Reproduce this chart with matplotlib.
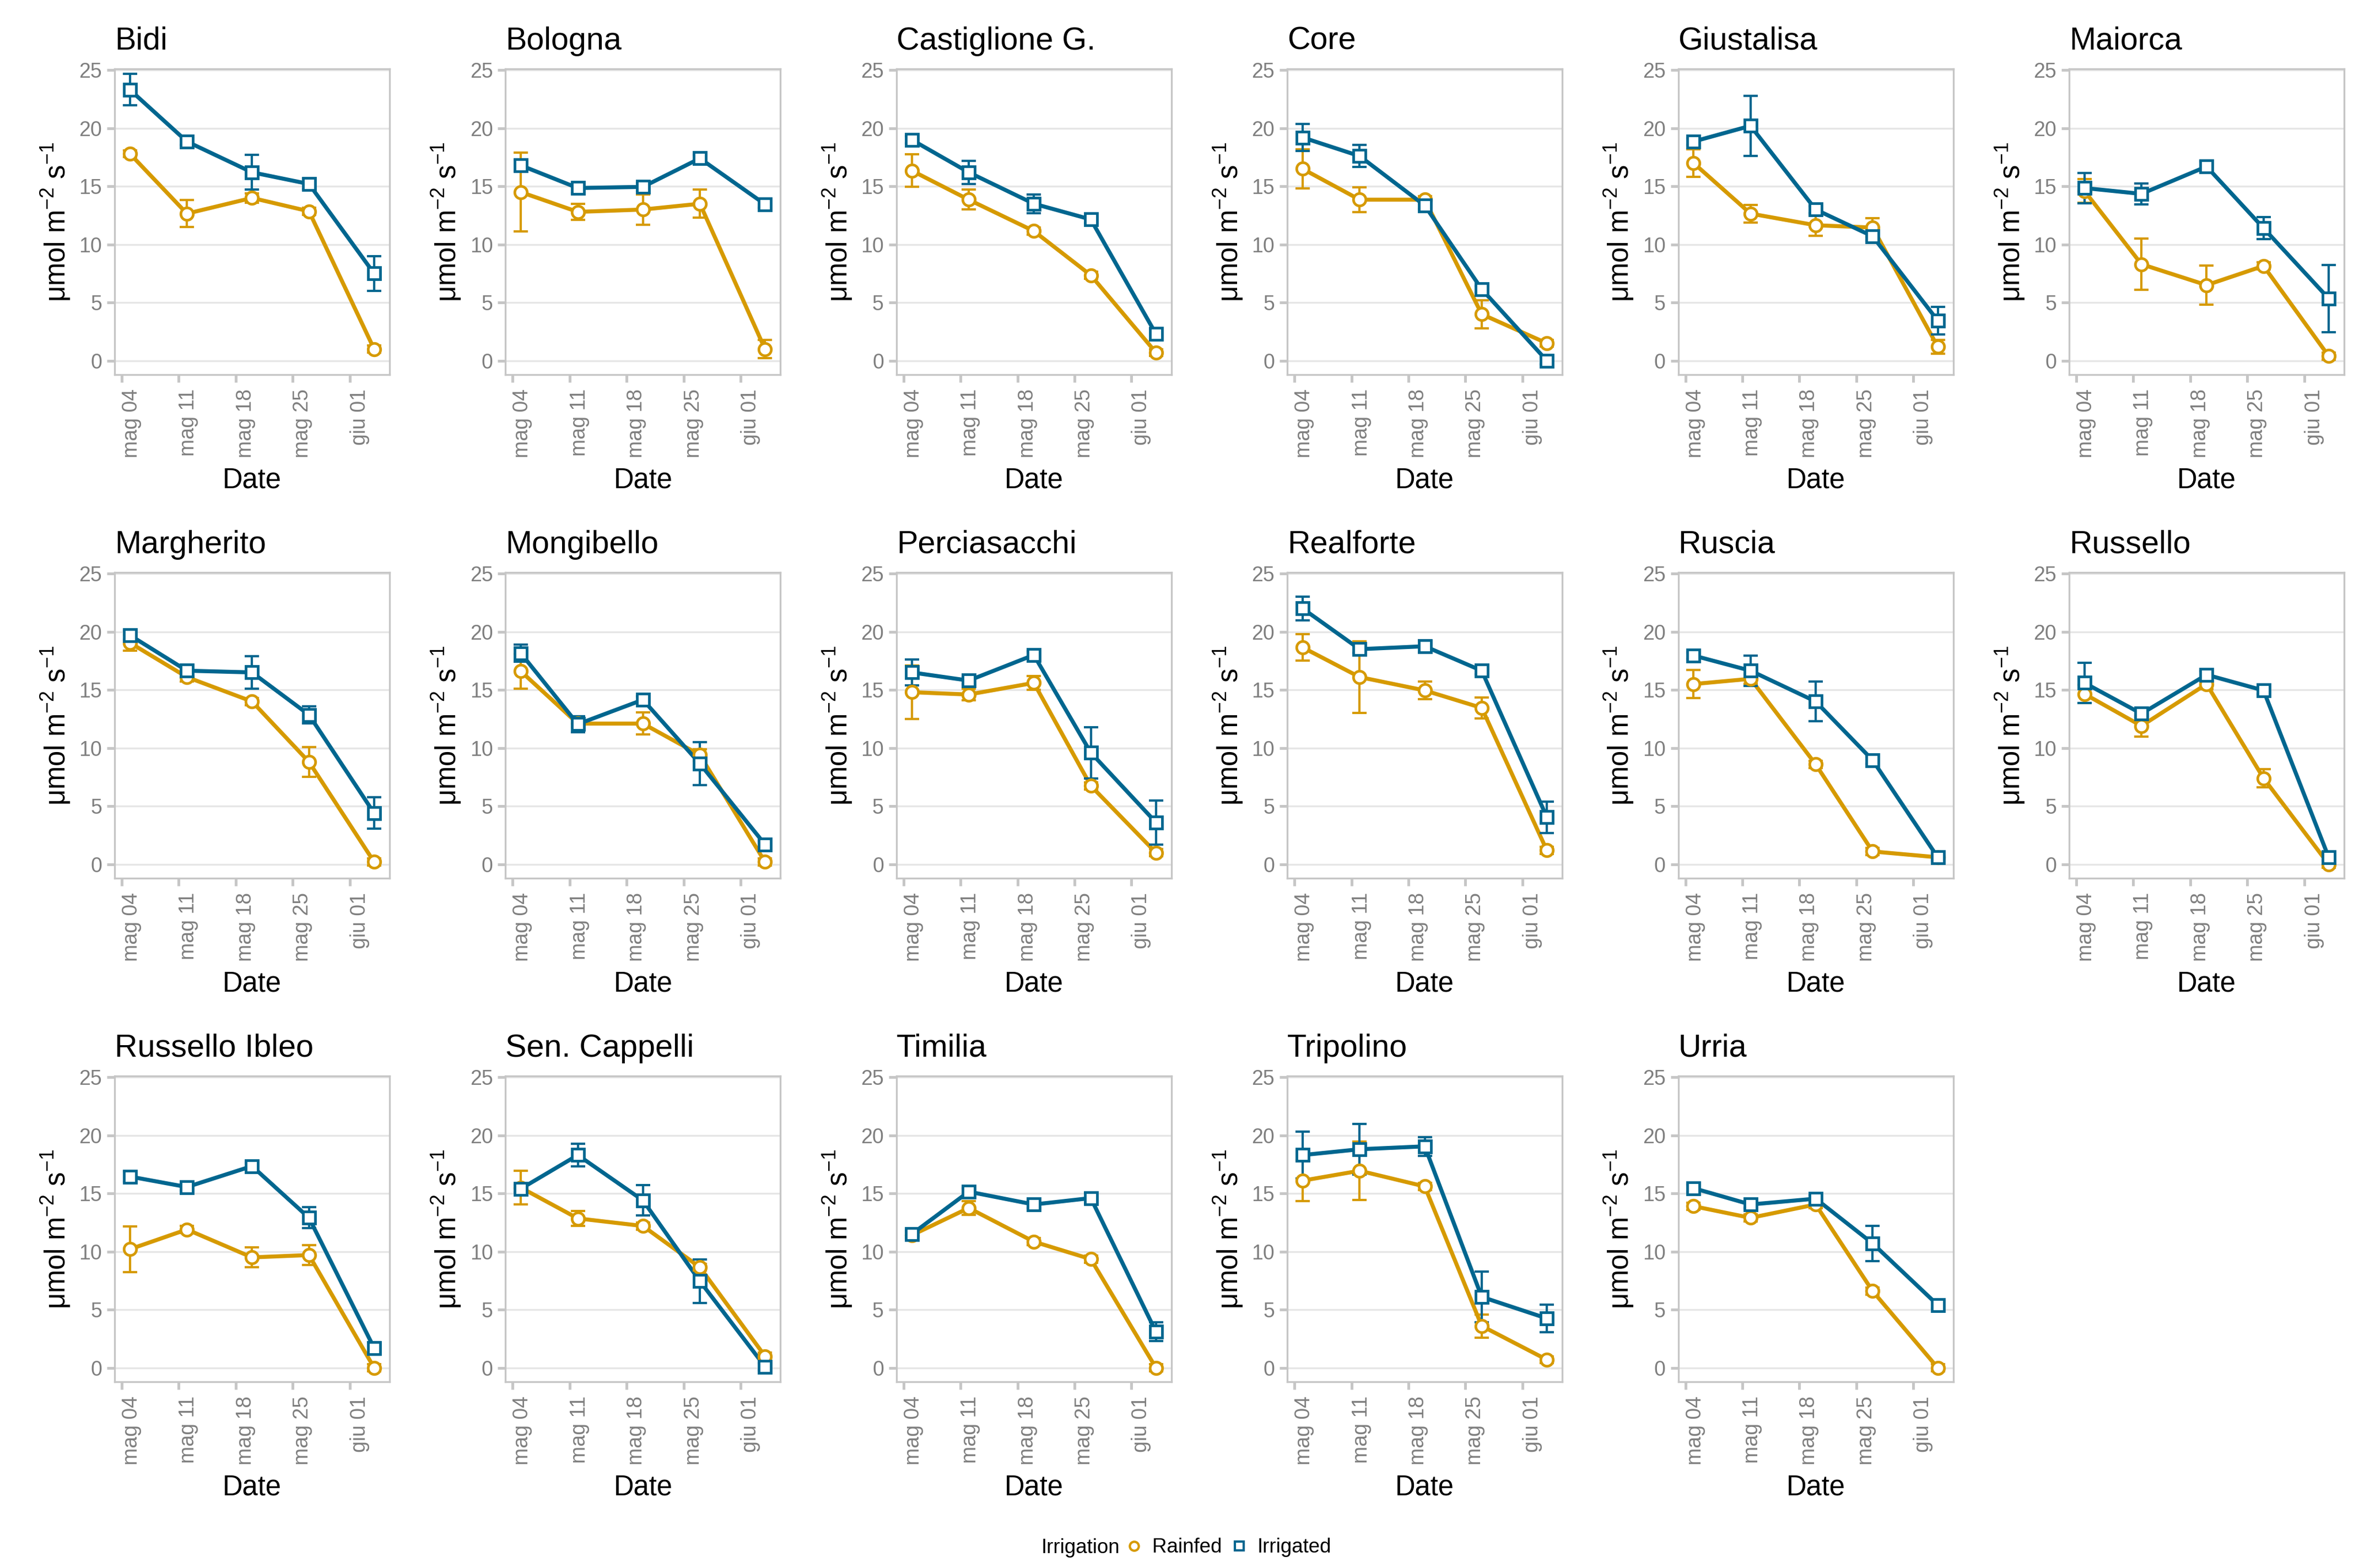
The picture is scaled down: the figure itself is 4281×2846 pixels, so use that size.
import matplotlib
matplotlib.use('Agg')
import matplotlib.pyplot as plt
import matplotlib.dates as mdates
from matplotlib.lines import Line2D

# ---------------- data ----------------
genotypes = ['Bidi', 'Bologna', 'Castiglione G.', 'Core', 'Giustalisa', 'Maiorca',
             'Margherito', 'Mongibello', 'Perciasacchi', 'Realforte', 'Ruscia', 'Russello',
             'Russello Ibleo', 'Sen. Cappelli', 'Timilia', 'Tripolino', 'Urria']

sample_dates = ['2023-05-05', '2023-05-12', '2023-05-20', '2023-05-27', '2023-06-04']
tick_dates = ['2023-05-04', '2023-05-11', '2023-05-18', '2023-05-25', '2023-06-01']
tick_labels = ['mag 04', 'mag 11', 'mag 18', 'mag 25', 'giu 01']
y_ticks = [0, 5, 10, 15, 20, 25]

rainfed_mean = [
    [17.8, 12.65, 14.0, 12.85, 1.0],
    [14.5, 12.8, 13.0, 13.5, 1.0],
    [16.35, 13.85, 11.15, 7.35, 0.7],
    [16.5, 13.85, 13.85, 4.0, 1.5],
    [17.0, 12.65, 11.65, 11.45, 1.2],
    [14.6, 8.3, 6.5, 8.15, 0.4],
    [19.05, 16.1, 14.0, 8.8, 0.2],
    [16.6, 12.1, 12.1, 9.4, 0.2],
    [14.8, 14.6, 15.6, 6.75, 1.0],
    [18.65, 16.1, 14.95, 13.45, 1.2],
    [15.5, 15.95, 8.6, 1.1, 0.6],
    [14.65, 11.9, 15.5, 7.4, 0.0],
    [10.2, 11.9, 9.5, 9.7, 0.0],
    [15.5, 12.85, 12.2, 8.65, 1.0],
    [11.4, 13.75, 10.85, 9.35, 0.0],
    [16.1, 16.95, 15.6, 3.6, 0.7],
    [13.9, 12.9, 14.05, 6.6, 0.0],
]
rainfed_err = [
    [0.3, 1.15, 0.4, 0.3, 0.3],
    [3.4, 0.7, 1.3, 1.2, 0.8],
    [1.4, 0.85, 0.3, 0.3, 0.3],
    [1.7, 1.05, 0.3, 1.2, 0.3],
    [1.2, 0.75, 0.9, 0.8, 0.6],
    [1.0, 2.2, 1.7, 0.3, 0.3],
    [0.7, 0.4, 0.3, 1.3, 0.3],
    [1.5, 0.3, 0.95, 0.5, 0.3],
    [2.3, 0.5, 0.6, 0.3, 0.3],
    [1.15, 3.1, 0.75, 0.9, 0.3],
    [1.2, 0.4, 0.3, 0.3, 0.3],
    [0.8, 0.9, 0.45, 0.8, 0.3],
    [1.95, 0.3, 0.85, 0.85, 0.3],
    [1.45, 0.65, 0.3, 0.3, 0.3],
    [0.3, 0.6, 0.3, 0.3, 0.3],
    [1.75, 2.5, 0.3, 1.0, 0.3],
    [0.3, 0.3, 0.3, 0.3, 0.3],
]
irrigated_mean = [
    [23.3, 18.85, 16.2, 15.2, 7.5],
    [16.8, 14.85, 14.95, 17.4, 13.45],
    [19.0, 16.2, 13.5, 12.15, 2.3],
    [19.2, 17.6, 13.35, 6.15, 0.0],
    [18.85, 20.2, 13.0, 10.7, 3.45],
    [14.85, 14.35, 16.7, 11.4, 5.35],
    [19.7, 16.65, 16.5, 12.85, 4.4],
    [18.15, 12.05, 14.15, 8.65, 1.7],
    [16.5, 15.8, 18.0, 9.6, 3.6],
    [22.0, 18.5, 18.75, 16.65, 4.05],
    [17.95, 16.65, 14.0, 8.95, 0.6],
    [15.6, 12.95, 16.3, 14.95, 0.6],
    [16.45, 15.55, 17.35, 12.9, 1.7],
    [15.4, 18.3, 14.4, 7.45, 0.1],
    [11.5, 15.15, 14.05, 14.6, 3.1],
    [18.3, 18.8, 19.05, 6.1, 4.25],
    [15.45, 14.05, 14.55, 10.7, 5.4],
]
irrigated_err = [
    [1.35, 0.3, 1.5, 0.45, 1.5],
    [0.5, 0.45, 0.35, 0.3, 0.3],
    [0.3, 1.0, 0.8, 0.3, 0.5],
    [1.15, 0.95, 0.3, 0.3, 0.3],
    [0.3, 2.6, 0.3, 0.4, 1.2],
    [1.3, 0.9, 0.45, 0.95, 2.9],
    [0.4, 0.3, 1.4, 0.75, 1.35],
    [0.75, 0.7, 0.3, 1.85, 0.3],
    [1.1, 0.3, 0.3, 2.2, 1.9],
    [1.0, 0.3, 0.5, 0.3, 1.35],
    [0.3, 1.3, 1.7, 0.3, 0.3],
    [1.75, 0.3, 0.3, 0.3, 0.3],
    [0.45, 0.3, 0.3, 0.9, 0.5],
    [0.3, 0.95, 1.3, 1.85, 0.3],
    [0.3, 0.3, 0.3, 0.45, 0.8],
    [2.0, 2.2, 0.8, 2.2, 1.2],
    [0.3, 0.3, 0.3, 1.5, 0.3],
]
series_labels = ['Rainfed', 'Irrigated']
legend_title = 'Irrigation'

# ---------------- style ----------------
plt.rcParams['font.family'] = ['Liberation Sans', 'DejaVu Sans']
plt.rcParams['mathtext.fontset'] = 'custom'
plt.rcParams['mathtext.rm'] = 'Liberation Sans'
plt.rcParams['mathtext.it'] = 'Liberation Sans:italic'
plt.rcParams['mathtext.bf'] = 'Liberation Sans:bold'
plt.rcParams['mathtext.default'] = 'regular'

RAIN = '#D69A00'
IRR = '#00668F'
SPINE = '#C6C6C6'
GRID = '#E6E6E6'
TICKLAB = '#7F7F7F'

W, H, DPI = 4281, 2846, 300
fig = plt.figure(figsize=(W / DPI, H / DPI), dpi=DPI)

xs = mdates.datestr2num(sample_dates)
xt = mdates.datestr2num(tick_dates)
xlim = (xt[0] - 0.88, xt[0] + 32.9)

AX_W, AX_H = 499, 555
for i, name in enumerate(genotypes):
    r, c = divmod(i, 6)
    left = 208 + c * 709.4
    top = 125 + r * 914
    ax = fig.add_axes([left / W, 1 - (top + AX_H) / H, AX_W / W, AX_H / H])

    series = [(rainfed_mean[i], rainfed_err[i], RAIN, 'o'),
              (irrigated_mean[i], irrigated_err[i], IRR, 's')]
    for k, (m, e, col, mk) in enumerate(series):
        ax.plot(xs, m, color=col, lw=1.75, zorder=3 + k * 0.1, solid_capstyle='butt')
    for k, (m, e, col, mk) in enumerate(series):
        ax.errorbar(xs, m, yerr=e, fmt='none', ecolor=col, elinewidth=1.0,
                    capsize=3.2, capthick=1.0, zorder=4 + k * 0.1)
    for k, (m, e, col, mk) in enumerate(series):
        ax.plot(xs, m, ls='none', marker=mk, ms=5.4, mfc='white', mec=col,
                mew=1.15, zorder=5 + k * 0.1)

    ax.set_xlim(*xlim)
    ax.set_ylim(-1.2, 25.1)
    ax.set_yticks(y_ticks)
    ax.set_yticklabels([str(v) for v in y_ticks])
    ax.set_xticks(xt)
    ax.set_xticklabels(tick_labels, rotation=90, ha='left', va='top')
    ax.yaxis.grid(True, color=GRID, lw=0.8)
    ax.xaxis.grid(False)
    ax.set_axisbelow(True)
    for sp in ax.spines.values():
        sp.set_color(SPINE)
        sp.set_linewidth(0.8)
    ax.tick_params(axis='both', direction='out', color=SPINE, width=1.2,
                   length=3.3, labelcolor=TICKLAB, labelsize=9)
    ax.tick_params(axis='y', pad=2.2)
    ax.tick_params(axis='x', pad=2.9)

    ax.set_title(name, loc='left', fontsize=13.8, pad=8.4, color='black')
    ax.set_ylabel('μmol m$^{-2}$ s$^{-1}$', fontsize=12.2, labelpad=3)
    ax.set_xlabel('Date', fontsize=12.2, labelpad=4)

# ---------------- legend ----------------
fig.text(1890 / W, 1 - 2819 / H, legend_title, fontsize=8.8, ha='left', va='baseline')
handles = [Line2D([], [], ls='none', marker='o', ms=3.9, mfc='white', mec=RAIN, mew=1.0),
           Line2D([], [], ls='none', marker='s', ms=3.9, mfc='white', mec=IRR, mew=1.0)]
fig.legend(handles, series_labels, loc='center left', bbox_to_anchor=(2047 / W, 1 - 2809 / H),
           ncol=2, frameon=False, fontsize=8.8, handlelength=0.6, handletextpad=0.6,
           columnspacing=0.55, borderpad=0, borderaxespad=0)

fig.savefig('out.png', dpi=DPI)
